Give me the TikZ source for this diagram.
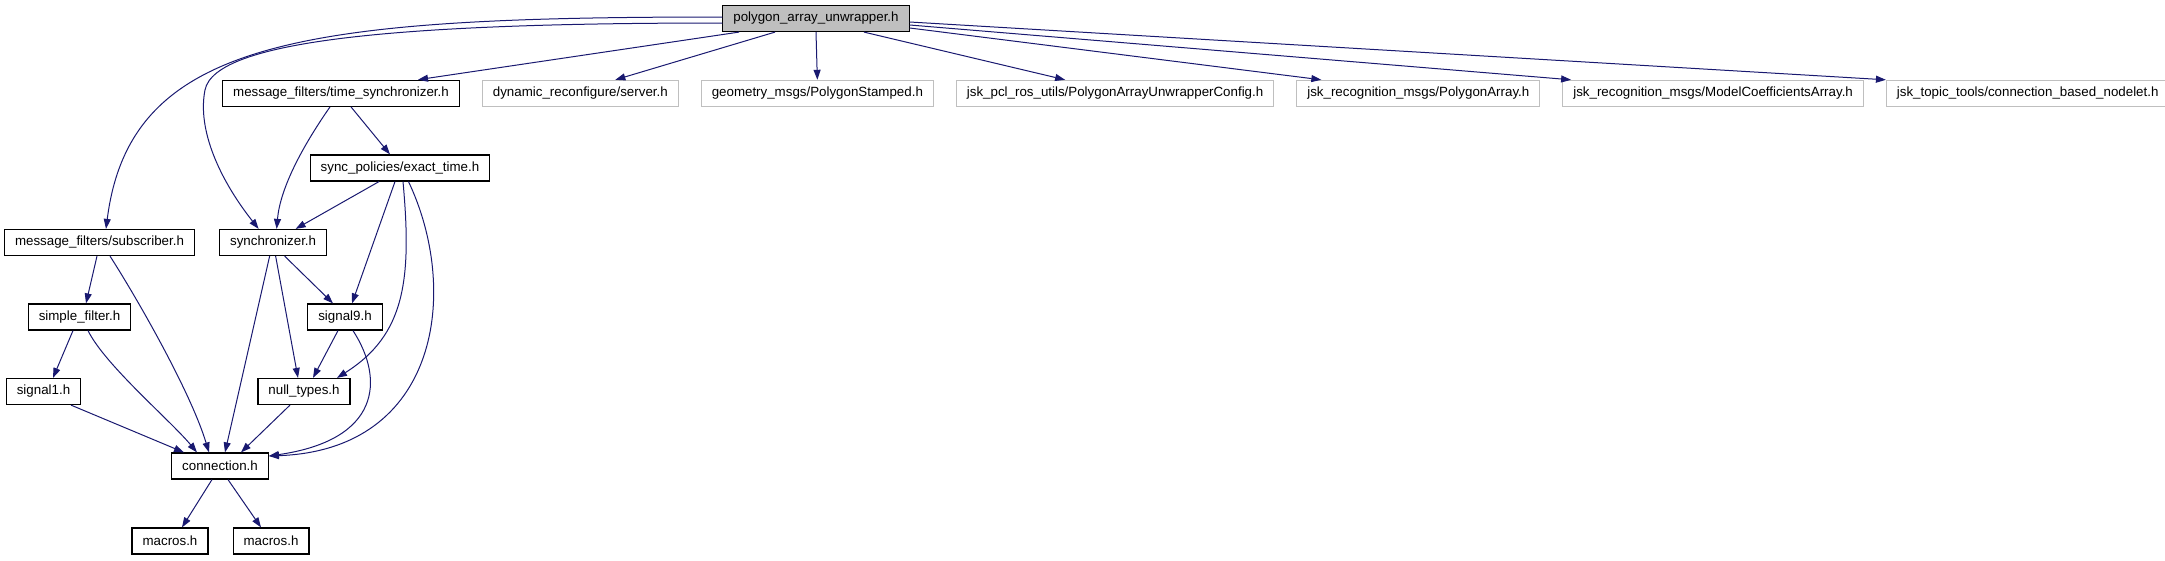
\documentclass[tikz,border=0pt]{standalone}
\usepackage{fontspec}
\setmainfont{Liberation Sans}
\usetikzlibrary{arrows.meta,positioning}
\definecolor{edgeblue}{HTML}{191970}
\definecolor{nodocgray}{HTML}{BFBFBF}
\definecolor{rootfill}{HTML}{BFBFBF}
\tikzset{
  hdr/.style={draw=black, line width=1.2pt, fill=white, rectangle, minimum height=26pt, inner xsep=10.5pt, inner ysep=0pt, font=\fontsize{13.33}{16}\selectfont},
  roothdr/.style={hdr, fill=rootfill},
  exthdr/.style={hdr, draw=nodocgray, line width=1pt},
  dep/.style={-{Triangle[length=10pt,width=7pt]}, line width=1pt, draw=edgeblue}
}

\begin{document}
\begin{tikzpicture}[x=1pt, y=-1pt, node distance=22pt]
\useasboundingbox (0,0) rectangle (2165,560);
\node[roothdr] (unwrap) at (816,18.5) {polygon\_array\_unwrapper.h};
\node[hdr] (tsync) at (341,93.3) {message\_filters/time\_synchronizer.h};
\node[exthdr, right=of tsync] (dynrec) {dynamic\_reconfigure/server.h};
\node[exthdr, right=of dynrec] (polystamped) {geometry\_msgs/PolygonStamped.h};
\node[exthdr, right=of polystamped] (unwrapcfg) {jsk\_pcl\_ros\_utils/PolygonArrayUnwrapperConfig.h};
\node[exthdr, right=of unwrapcfg] (polyarray) {jsk\_recognition\_msgs/PolygonArray.h};
\node[exthdr, right=of polyarray] (coefarray) {jsk\_recognition\_msgs/ModelCoefficientsArray.h};
\node[exthdr, right=of coefarray] (nodelet) {jsk\_topic\_tools/connection\_based\_nodelet.h};
\node[hdr] (exacttime) at (400,168) {sync\_policies/exact\_time.h};
\node[hdr] (subscr) at (99.5,242.5) {message\_filters/subscriber.h};
\node[hdr, right=24pt of subscr] (synchr) {synchronizer.h};
\node[hdr] (simplefilt) at (79.5,317) {simple\_filter.h};
\node[hdr] (signine) at (345,317) {signal9.h};
\node[hdr] (sigone) at (43.5,391.5) {signal1.h};
\node[hdr] (nulltypes) at (304,391.5) {null\_types.h};
\node[hdr] (conn) at (220,466) {connection.h};
\node[hdr] (macrosa) at (170,541) {macros.h};
\node[hdr, right=24pt of macrosa] (macrosb) {macros.h};
\draw[dep] ([yshift=1.5pt]unwrap.west) .. controls (300,17) and (130,40) .. ([xshift=6.5pt]subscr.north);
\draw[dep] ([yshift=-4.5pt]unwrap.west) .. controls (400,23) and (215,40) .. (205,90) .. controls (197,130) and (220,180) .. ([xshift=-14.5pt]synchr.north);
\draw[dep] ([xshift=-77pt]unwrap.south) -- ([xshift=77pt]tsync.north); \draw[dep] ([xshift=-41pt]unwrap.south) -- ([xshift=35pt]dynrec.north);
\draw[dep] (unwrap.south) -- (polystamped.north); \draw[dep] ([xshift=48pt]unwrap.south) -- ([xshift=-50pt]unwrapcfg.north);
\draw[dep] ([yshift=-9.5pt]unwrap.east) -- ([xshift=-97pt]polyarray.north); \draw[dep] ([yshift=-6.5pt]unwrap.east) -- ([xshift=-142pt]coefarray.north);
\draw[dep] ([yshift=-3.5pt]unwrap.east) -- (nodelet.north west);
\draw[dep] ([xshift=-11pt]tsync.south) .. controls (300,150) and (280,190) .. ([xshift=3.5pt]synchr.north);
\draw[dep] ([xshift=10pt]tsync.south) -- ([xshift=-10pt]exacttime.north);
\draw[dep] ([xshift=-21pt]exacttime.south) -- ([xshift=22.5pt]synchr.north); \draw[dep] ([xshift=-5pt]exacttime.south) -- ([xshift=7pt]signine.north);
\draw[dep] ([xshift=3pt]exacttime.south) .. controls (412,280) and (405,335) .. ([xshift=33pt]nulltypes.north);
\draw[dep] ([xshift=8.5pt]exacttime.south) .. controls (460,290) and (440,450) .. ([yshift=10pt]conn.east);
\draw[dep] ([xshift=-2.5pt]subscr.south) -- ([xshift=6.5pt]simplefilt.north);
\draw[dep] ([xshift=10.5pt]subscr.south) .. controls (135,295) and (190,390) .. ([xshift=-11pt]conn.north);
\draw[dep] ([xshift=-3.5pt]synchr.south) -- ([xshift=5pt]conn.north); \draw[dep] ([xshift=2.5pt]synchr.south) -- ([xshift=-6pt]nulltypes.north);
\draw[dep] ([xshift=11.5pt]synchr.south) -- ([xshift=-12pt]signine.north);
\draw[dep] ([xshift=-6.5pt]simplefilt.south) -- ([xshift=9.5pt]sigone.north);
\draw[dep] ([xshift=8.5pt]simplefilt.south) .. controls (105,365) and (170,420) .. ([xshift=-23pt]conn.north);
\draw[dep] ([xshift=-7pt]signine.south) -- ([xshift=9pt]nulltypes.north);
\draw[dep] ([xshift=8pt]signine.south) .. controls (385,380) and (380,440) .. ([yshift=10pt]conn.east);
\draw[dep] ([xshift=27.5pt]sigone.south) -- ([xshift=-36pt]conn.north); \draw[dep] ([xshift=-14pt]nulltypes.south) -- ([xshift=21pt]conn.north);
\draw[dep] ([xshift=-8pt]conn.south) -- ([xshift=12pt]macrosa.north); \draw[dep] ([xshift=8pt]conn.south) -- ([xshift=-10pt]macrosb.north);
\end{tikzpicture}
\end{document}
